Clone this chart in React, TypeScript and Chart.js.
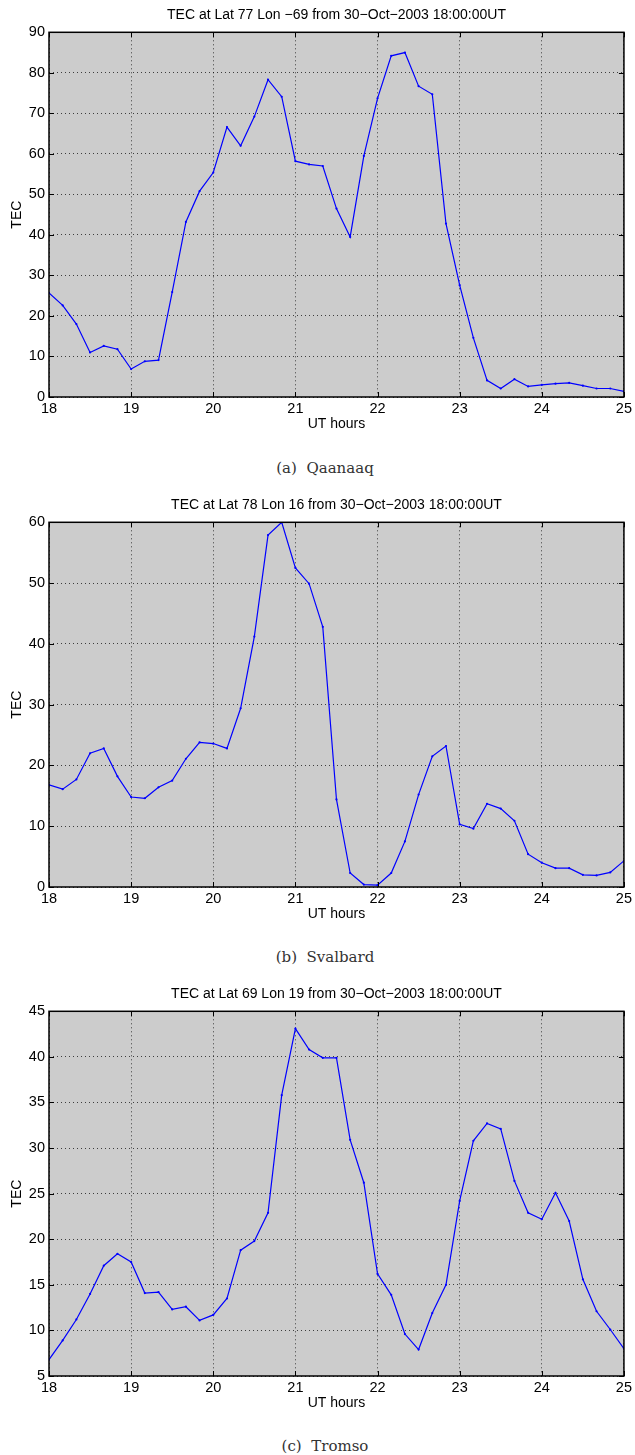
import React, { useEffect, useRef } from "react";
import { Chart, registerables } from "chart.js";

Chart.register(...registerables);

// Sample times (UT hours, 10-minute cadence)
const hours = [
  18, 18.1667, 18.3333, 18.5, 18.6667, 18.8333,
  19, 19.1667, 19.3333, 19.5, 19.6667, 19.8333,
  20, 20.1667, 20.3333, 20.5, 20.6667, 20.8333,
  21, 21.1667, 21.3333, 21.5, 21.6667, 21.8333,
  22, 22.1667, 22.3333, 22.5, 22.6667, 22.8333,
  23, 23.1667, 23.3333, 23.5, 23.6667, 23.8333,
  24, 24.1667, 24.3333, 24.5, 24.6667, 24.8333,
  25,
];

const qaanaaqTec = [
  25.7, 22.6, 18.0, 11.0, 12.6, 11.8, 6.9, 8.8, 9.1, 25.9, 43.2, 50.8, 55.4,
  66.6, 62.0, 69.2, 78.3, 74.1, 58.2, 57.4, 57.0, 46.5, 39.5, 59.5, 73.7, 84.2,
  85.0, 76.7, 74.7, 42.8, 27.6, 14.6, 4.1, 2.1, 4.4, 2.6, 3.0, 3.3, 3.5, 2.8,
  2.1, 2.1, 1.4,
];

const svalbardTec = [
  16.8, 16.1, 17.7, 22.0, 22.8, 18.2, 14.8, 14.6, 16.4, 17.5, 21.1, 23.8, 23.6,
  22.8, 29.4, 41.2, 57.9, 60.0, 52.5, 49.9, 42.8, 14.4, 2.3, 0.4, 0.3, 2.3, 7.5,
  15.2, 21.5, 23.2, 10.3, 9.6, 13.7, 12.9, 10.9, 5.4, 4.0, 3.1, 3.1, 2.0, 1.9,
  2.4, 4.3,
];

const tromsoTec = [
  6.8, 8.9, 11.2, 14.0, 17.1, 18.4, 17.5, 14.1, 14.2, 12.3, 12.6, 11.1, 11.7,
  13.5, 18.8, 19.8, 22.9, 35.8, 43.1, 40.8, 39.9, 39.9, 30.9, 26.2, 16.2, 13.9,
  9.6, 7.9, 11.9, 15.0, 24.2, 30.8, 32.7, 32.1, 26.4, 22.9, 22.2, 25.1, 22.0,
  15.6, 12.1, 10.1, 8.0,
];

const titles = [
  "TEC at Lat 77 Lon \u221269 from 30\u2212Oct\u22122003 18:00:00UT",
  "TEC at Lat 78 Lon 16 from 30\u2212Oct\u22122003 18:00:00UT",
  "TEC at Lat 69 Lon 19 from 30\u2212Oct\u22122003 18:00:00UT",
];
const captions = ["(a)\u00a0\u00a0Qaanaaq", "(b)\u00a0\u00a0Svalbard", "(c)\u00a0\u00a0Tromso"];
const yRanges = [
  { min: 0, max: 90, step: 10 },
  { min: 0, max: 60, step: 10 },
  { min: 5, max: 45, step: 5 },
];
const xRange = { min: 18, max: 25, step: 1 };
const xLabel = "UT hours";
const yLabel = "TEC";

const SANS = "'Liberation Sans', Arial, Helvetica, sans-serif";

const framePlugin = {
  id: "matlabFrame",
  beforeDraw(chart: any) {
    const { ctx, chartArea } = chart;
    const { left, top, right, bottom } = chartArea;
    ctx.save();
    ctx.fillStyle = "#cccccc";
    ctx.fillRect(left, top, right - left, bottom - top);
    ctx.restore();
  },
  afterDraw(chart: any) {
    const { ctx, chartArea, scales } = chart;
    const { left, top, right, bottom } = chartArea;
    const x = scales.x;
    const y = scales.y;
    const tl = 5;
    ctx.save();
    ctx.strokeStyle = "#000";
    ctx.lineWidth = 1;
    ctx.beginPath();
    x.ticks.forEach((t: any) => {
      const px = Math.round(x.getPixelForValue(t.value)) + 0.5;
      ctx.moveTo(px, bottom);
      ctx.lineTo(px, bottom - tl);
      ctx.moveTo(px, top);
      ctx.lineTo(px, top + tl);
    });
    y.ticks.forEach((t: any) => {
      const py = Math.round(y.getPixelForValue(t.value)) + 0.5;
      ctx.moveTo(left, py);
      ctx.lineTo(left + tl, py);
      ctx.moveTo(right, py);
      ctx.lineTo(right - tl, py);
    });
    ctx.stroke();
    ctx.lineWidth = 1.5;
    ctx.strokeRect(left, top, right - left, bottom - top);
    ctx.restore();
  },
};

function Panel({ title, values, yr }: { title: string; values: number[]; yr: { min: number; max: number; step: number } }) {
  const ref = useRef<HTMLCanvasElement | null>(null);
  useEffect(() => {
    if (!ref.current) return;
    const points = hours.map((h, i) => ({ x: h, y: values[i] }));
    const chart = new Chart(ref.current, {
      type: "line",
      data: {
        datasets: [
          {
            data: points,
            borderColor: "#0000ff",
            backgroundColor: "#0000ff",
            borderWidth: 1.2,
            pointRadius: 1.1,
            pointBorderWidth: 0,
            pointBackgroundColor: "#0000ff",
            tension: 0,
            fill: false,
          },
        ],
      },
      options: {
        animation: false,
        responsive: false,
        devicePixelRatio: 1,
        layout: { padding: { left: 0, right: 8, top: 0, bottom: 0 } },
        plugins: {
          legend: { display: false },
          tooltip: { enabled: false },
          title: {
            display: true,
            text: title,
            color: "#000",
            fullSize: false,
            font: { family: SANS, size: 14, weight: "normal" },
            padding: { top: 7.2, bottom: 8.3 },
          },
        },
        scales: {
          x: {
            type: "linear",
            min: xRange.min,
            max: xRange.max,
            afterFit: (s: any) => {
              s.height = 36;
            },
            ticks: {
              stepSize: xRange.step,
              autoSkip: false,
              color: "#000",
              padding: 3,
              font: { family: SANS, size: 14.5 },
              maxRotation: 0,
            },
            grid: {
              drawTicks: false,
              color: "rgba(0,0,0,0.7)",
              lineWidth: 1,
            },
            border: { display: false, dash: [1, 3] },
            title: {
              display: true,
              text: xLabel,
              color: "#000",
              font: { family: SANS, size: 14 },
              padding: { top: 0, bottom: 0 },
            },
          },
          y: {
            type: "linear",
            min: yr.min,
            max: yr.max,
            afterFit: (s: any) => {
              s.width = 49;
            },
            ticks: {
              stepSize: yr.step,
              autoSkip: false,
              color: "#000",
              padding: 4,
              font: { family: SANS, size: 14.5 },
            },
            grid: {
              drawTicks: false,
              color: "rgba(0,0,0,0.7)",
              lineWidth: 1,
            },
            border: { display: false, dash: [1, 3] },
            title: {
              display: true,
              text: yLabel,
              color: "#000",
              font: { family: SANS, size: 14 },
              padding: { top: 9, bottom: 0 },
            },
          },
        },
      },
      plugins: [framePlugin],
    } as any);
    return () => chart.destroy();
  }, [title, values, yr]);
  return <canvas ref={ref} width={635} height={433} style={{ width: 635, height: 433, display: "block" }} />;
}

const panelTops = [0, 490, 979];
const captionCenters = [468, 957, 1446];
const seriesList = [qaanaaqTec, svalbardTec, tromsoTec];

export default function App() {
  return (
    <div style={{ position: "absolute", left: 0, top: 0, width: 635, height: 1455, background: "#fff", overflow: "hidden" }}>
      {seriesList.map((vals, i) => (
        <div key={"p" + i} style={{ position: "absolute", left: 0, top: panelTops[i], width: 635, height: 433 }}>
          <Panel title={titles[i]} values={vals} yr={yRanges[i]} />
        </div>
      ))}
      {captions.map((c, i) => (
        <div
          key={"c" + i}
          style={{
            position: "absolute",
            left: 225,
            width: 200,
            top: captionCenters[i] - 10,
            height: 20,
            lineHeight: "20px",
            textAlign: "center",
            fontFamily: "'DejaVu Serif', 'Liberation Serif', serif",
            fontSize: 15,
            color: "#333",
            whiteSpace: "pre",
          }}
        >
          {c}
        </div>
      ))}
    </div>
  );
}
